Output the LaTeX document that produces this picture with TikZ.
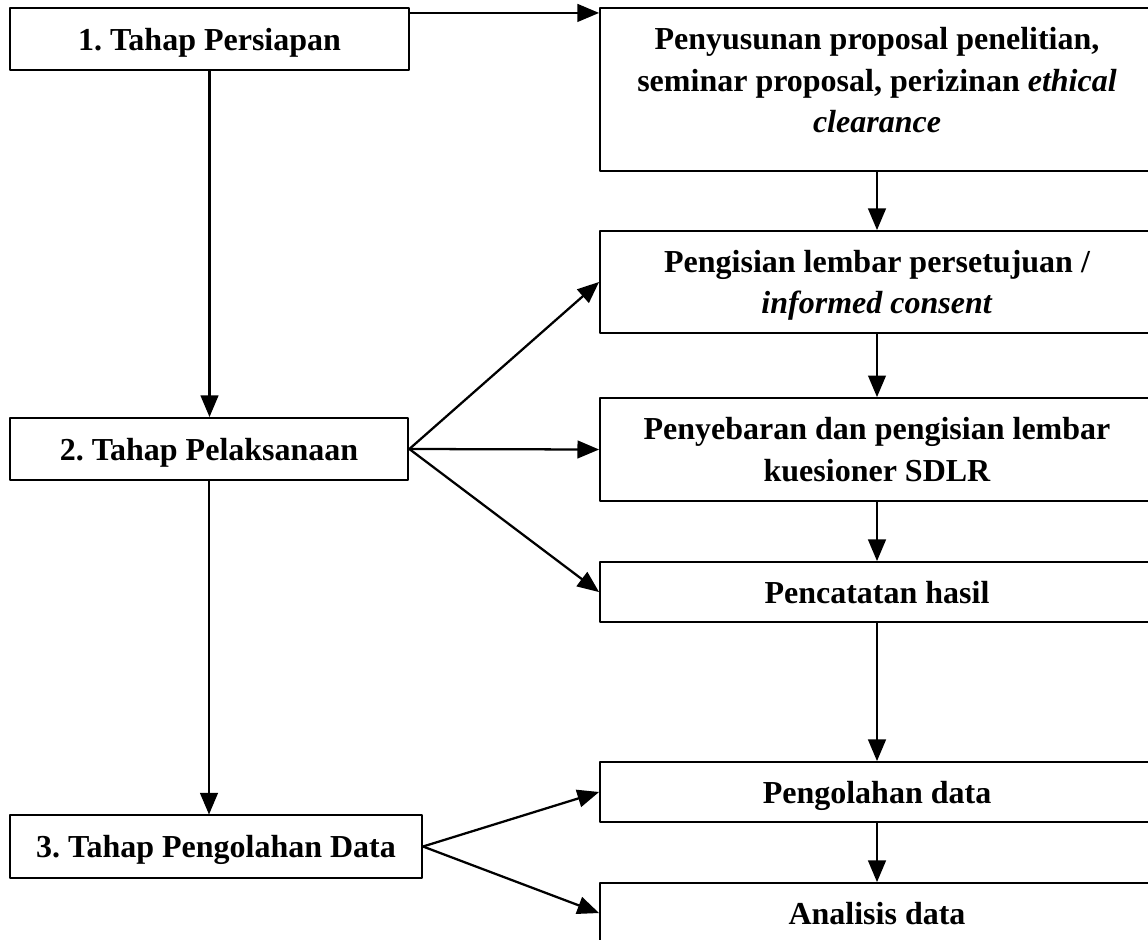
\documentclass[tikz,border=0pt]{standalone}
\usepackage{fontspec}
\setmainfont{Liberation Serif}
\usetikzlibrary{arrows}
\frenchspacing

\tikzset{
  tahap/.style={draw,line width=0.75pt,minimum width=149.5pt,minimum height=23.3pt,
    inner sep=2pt,text depth=0pt,font=\fontsize{12}{15.5}\selectfont\bfseries},
  kegiatan/.style={draw,line width=0.75pt,minimum width=207.75pt,align=center,
    inner sep=2pt,text depth=0pt,font=\fontsize{12}{15.5}\selectfont\bfseries},
  panah/.style={->,line width=0.85pt}
}

\begin{document}
\begin{tikzpicture}[line cap=round,line join=round,>=triangle 45,x=0.375pt,y=-0.375pt]
        \useasboundingbox (0,0) rectangle (1148,939);
        \clip (0,0) rectangle (1148,939);
        % tahap di kiri
        \node[tahap] (p1) at (209.5,39) {1. Tahap Persiapan};
        \node[tahap] (p2) at (209,449) {2. Tahap Pelaksanaan};
        \node[tahap,minimum width=154.5pt] (p3) at (216,846.5) {3. Tahap Pengolahan Data};
        % kegiatan di kanan
        \node[kegiatan,minimum height=61.1pt,text depth=7.2pt] (r1) at (877,89.5) {Penyusunan proposal penelitian,\\seminar proposal, perizinan \textit{ethical}\\\textit{clearance}};
        \node[kegiatan,minimum height=38.25pt] (r2) at (877,282) {Pengisian lembar persetujuan /\\\textit{informed consent}};
        \node[kegiatan,minimum height=38.6pt] (r3) at (877,449.5) {Penyebaran dan pengisian lembar\\kuesioner SDLR};
        \node[kegiatan,minimum height=22.5pt] (r4) at (877,592) {Pencatatan hasil};
        \node[kegiatan,minimum height=22.5pt] (r5) at (877,792) {Pengolahan data};
        \node[kegiatan,minimum height=22.5pt] (r6) at (877,913) {Analisis data};
        \coordinate (p1out) at ([yshift=-2.25pt]p1.north east);
        % panah
        \draw[panah] (p1out) -- (p1out -| r1.west);
        \draw[panah] (p1.south) -- (p1.south |- p2.north);
        \draw[panah] (p2.south) -- (p2.south |- p3.north);
        \draw[panah] (r1) -- (r2);
        \draw[panah] (r2) -- (r3);
        \draw[panah] (r3) -- (r4);
        \draw[panah] (r4) -- (r5);
        \draw[panah] (r5) -- (r6);
        \draw[panah] (p2.east) -- (r2.west);
        \draw[panah] (p2.east) -- (r3.west);
        \draw[panah] (p2.east) -- (r4.west);
        \draw[panah] (p3.east) -- (r5.west);
        \draw[panah] (p3.east) -- (r6.west);
\end{tikzpicture}
\end{document}
